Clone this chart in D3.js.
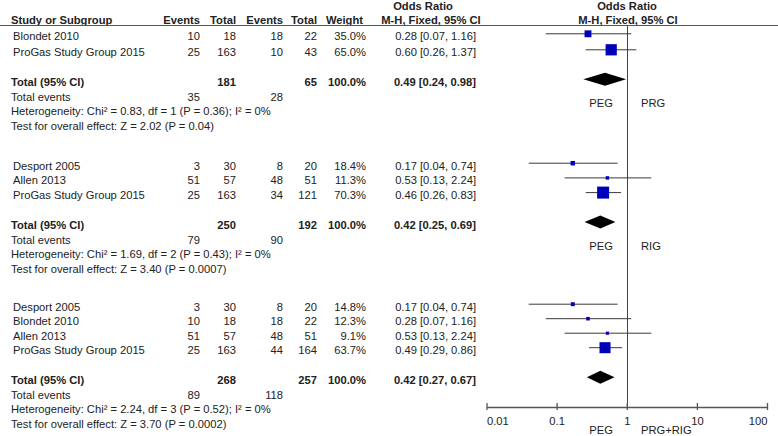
<!DOCTYPE html>
<html><head><meta charset="utf-8">
<script src="https://cdn.jsdelivr.net/npm/d3@7"></script>
<style>
html,body{margin:0;padding:0;background:#fff;}
svg{display:block;font-family:"Liberation Sans",Arial,sans-serif;}
text{fill:#222;font-size:11.2px;}
.b{font-weight:bold;}
</style></head><body>
<svg id="c" width="778" height="436"></svg>
<script>
// ---- data ----
const comparators = ["PRG", "RIG", "PRG+RIG"];
const studies = [
  ["Blondet 2010", "ProGas Study Group 2015"],
  ["Desport 2005", "Allen 2013", "ProGas Study Group 2015"],
  ["Desport 2005", "Blondet 2010", "Allen 2013", "ProGas Study Group 2015"]
];
const pegEvents = [[10, 25], [3, 51, 25], [3, 10, 51, 25]];
const pegTotal  = [[18, 163], [30, 57, 163], [30, 18, 57, 163]];
const ctlEvents = [[18, 10], [8, 48, 34], [8, 18, 48, 44]];
const ctlTotal  = [[22, 43], [20, 51, 121], [20, 22, 51, 164]];
const weights   = [[35.0, 65.0], [18.4, 11.3, 70.3], [14.8, 12.3, 9.1, 63.7]];
const oddsRatio = [[0.28, 0.60], [0.17, 0.53, 0.46], [0.17, 0.28, 0.53, 0.49]];
const ciLow     = [[0.07, 0.26], [0.04, 0.13, 0.26], [0.04, 0.07, 0.13, 0.29]];
const ciHigh    = [[1.16, 1.37], [0.74, 2.24, 0.83], [0.74, 1.16, 2.24, 0.86]];
const pooledOR   = [0.49, 0.42, 0.42];
const pooledLow  = [0.24, 0.25, 0.27];
const pooledHigh = [0.98, 0.69, 0.67];
const sumPegTotal = [181, 250, 268];
const sumCtlTotal = [65, 192, 257];
const sumPegEvents = [35, 79, 89];
const sumCtlEvents = [28, 90, 118];
const heterogeneity = [
  "Heterogeneity: Chi² = 0.83, df = 1 (P = 0.36); I² = 0%",
  "Heterogeneity: Chi² = 1.69, df = 2 (P = 0.43); I² = 0%",
  "Heterogeneity: Chi² = 2.24, df = 3 (P = 0.52); I² = 0%"
];
const overallEffect = [
  "Test for overall effect: Z = 2.02 (P = 0.04)",
  "Test for overall effect: Z = 3.40 (P = 0.0007)",
  "Test for overall effect: Z = 3.70 (P = 0.0002)"
];
const axisTicks = [0.01, 0.1, 1, 10, 100];
const axisTickLabels = ["0.01", "0.1", "1", "10", "100"];
const experimentalLabel = "PEG";

// ---- layout ----
const svg = d3.select("#c");
const x = d3.scaleLog().domain([0.01, 100]).range([486.5, 767]);
const boxSize = d3.scaleLinear().domain([0, 100]).range([1.8, 16.3]);
const f2 = d3.format(".2f");
const groupBase = [36.3, 165.7, 306.7];
const groupStep = [16, 14.7, 14.5];
const axisY = 407;
const col = {ev1: 200, tot1: 236, ev2: 283, tot2: 317, w: 366, or: 476};

function txt(xp, yp, s, anchor, cls) {
  return svg.append("text").attr("x", xp).attr("y", yp).attr("dy", "0.35em")
    .attr("text-anchor", anchor || "start").attr("class", cls || null).text(s);
}

// header
txt(423, 6, "Odds Ratio", "middle", "b");
txt(627, 6, "Odds Ratio", "middle", "b");
const hy = 20;
txt(11, hy, "Study or Subgroup", "start", "b");
txt(col.ev1, hy, "Events", "end", "b");
txt(col.tot1, hy, "Total", "end", "b");
txt(col.ev2, hy, "Events", "end", "b");
txt(col.tot2, hy, "Total", "end", "b");
txt(363, hy, "Weight", "end", "b");
txt(431, hy, "M-H, Fixed, 95% CI", "middle", "b");
txt(628, hy, "M-H, Fixed, 95% CI", "middle", "b");
svg.append("line").attr("x1", 0).attr("x2", 778).attr("y1", 25.5).attr("y2", 25.5)
  .attr("stroke", "#555").attr("stroke-width", 1.2);

// null line
svg.append("line").attr("x1", Math.round(x(1)) + 0.5).attr("x2", Math.round(x(1)) + 0.5)
  .attr("y1", 26).attr("y2", axisY).attr("stroke", "#444").attr("stroke-width", 1);

comparators.forEach((cmp, g) => {
  const n = studies[g].length;
  const yRow = i => groupBase[g] + i * groupStep[g];
  studies[g].forEach((name, i) => {
    const y = yRow(i);
    txt(13, y, name);
    txt(col.ev1, y, pegEvents[g][i], "end");
    txt(col.tot1, y, pegTotal[g][i], "end");
    txt(col.ev2, y, ctlEvents[g][i], "end");
    txt(col.tot2, y, ctlTotal[g][i], "end");
    txt(col.w, y, weights[g][i].toFixed(1) + "%", "end");
    txt(col.or, y, `${f2(oddsRatio[g][i])} [${f2(ciLow[g][i])}, ${f2(ciHigh[g][i])}]`, "end");
    const my = y - 2.5;
    svg.append("line").attr("x1", x(ciLow[g][i])).attr("x2", x(ciHigh[g][i]))
      .attr("y1", my).attr("y2", my).attr("stroke", "#3a3a3a").attr("stroke-width", 1);
    const s = boxSize(weights[g][i]);
    svg.append("rect").attr("x", x(oddsRatio[g][i]) - s / 2).attr("y", my - s / 2)
      .attr("width", s).attr("height", s).attr("fill", "#0000bb");
  });
  const ty = yRow(n - 1) + 30;
  txt(11, ty, "Total (95% CI)", "start", "b");
  txt(col.tot1, ty, sumPegTotal[g], "end", "b");
  txt(col.tot2, ty, sumCtlTotal[g], "end", "b");
  txt(col.w, ty, "100.0%", "end", "b");
  txt(col.or, ty, `${f2(pooledOR[g])} [${f2(pooledLow[g])}, ${f2(pooledHigh[g])}]`, "end", "b");
  const dy = ty - 3;
  const dp = [[x(pooledLow[g]), dy], [x(pooledOR[g]), dy - 6.5], [x(pooledHigh[g]), dy], [x(pooledOR[g]), dy + 6.5]];
  svg.append("path").attr("d", d3.line()(dp) + "Z").attr("fill", "#000");
  txt(11, ty + 14.5, "Total events");
  txt(col.ev1, ty + 14.5, sumPegEvents[g], "end");
  txt(col.ev2, ty + 14.5, sumCtlEvents[g], "end");
  txt(11, ty + 29, heterogeneity[g]);
  txt(11, ty + 43.5, overallEffect[g]);
  const ly = g < 2 ? ty + 21 : 430;
  txt(613, ly, experimentalLabel, "end");
  txt(641, ly, cmp, "start");
});

// axis
const axis = d3.axisBottom(x).tickValues(axisTicks).tickFormat((d, i) => axisTickLabels[i])
  .tickSizeInner(3).tickSizeOuter(0);
const ag = svg.append("g").attr("transform", `translate(0,${axisY})`).call(axis);
ag.select(".domain").attr("stroke", "#555").attr("stroke-width", 1.5);
ag.selectAll(".tick line").attr("y1", -4).attr("y2", 3).attr("stroke", "#555").attr("stroke-width", 1.3);
ag.selectAll(".tick text").attr("y", 14).attr("dy", "0.35em")
  .style("font-size", "11.2px").style("font-family", "'Liberation Sans',Arial,sans-serif").attr("fill", "#222")
  .attr("text-anchor", (d, i) => i === 0 ? "start" : (i === axisTicks.length - 1 ? "end" : "middle"));
</script>
</body></html>
